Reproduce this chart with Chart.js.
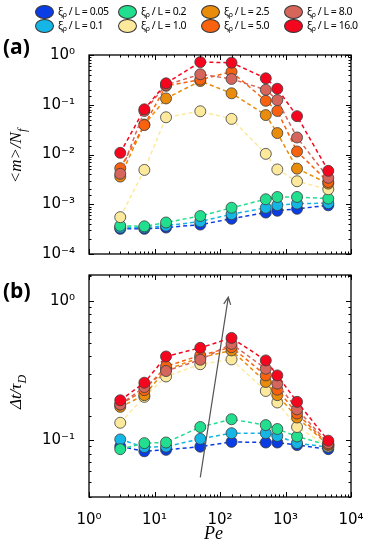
<!DOCTYPE html>
<html>
<head>
<meta charset="utf-8">
<script src="https://cdn.jsdelivr.net/npm/chart.js@4"></script>
<style>
body{margin:0;background:#fff;width:374px;height:554px;position:relative;overflow:hidden;font-family:"DejaVu Sans",sans-serif}
canvas{position:absolute;left:0}
#c1{top:0}
#c2{top:260px}
.leg{position:absolute;font:10.5px "Noto Sans",sans-serif;letter-spacing:-0.45px;white-space:nowrap;line-height:13px}
.leg i{position:absolute;left:-23px;top:0;width:17px;height:12px;border-radius:50%;border:1px solid #333}
.leg sub{font-size:7px;vertical-align:-2px}
.panel{position:absolute;font:bold 21px "Open Sans",sans-serif;left:3px}
.ytitle{position:absolute;font:italic 17px "Liberation Serif",serif;transform:translate(-50%,-50%) rotate(-90deg);white-space:nowrap}
.ytitle sub{font-size:12px}
#pe{position:absolute;left:204px;top:523px;font:italic 18px "Liberation Serif",serif}
</style>
</head>
<body>
<canvas id="c1" width="374" height="270"></canvas>
<canvas id="c2" width="374" height="294"></canvas>
<div class="panel" style="top:32px">(a)</div>
<div class="panel" style="top:276px">(b)</div>
<div class="ytitle" style="left:18px;top:156px">&lt;m&gt;/N<sub>f</sub></div>
<div class="ytitle" style="left:18px;top:392px">&Delta;t/&tau;<sub>D</sub></div>
<div id="pe">Pe</div>
<script>
// Peclet numbers (x)
const pe = [3, 7, 15, 50, 150, 500, 750, 1500, 4500];
const xiLabels = ['0.05', '0.1', '0.2', '1.0', '2.5', '5.0', '8.0', '16.0'];
const colors = ['#0a3de6', '#14b6e6', '#22df8f', '#fde99b', '#e98b0b', '#f8620f', '#d6655b', '#f4061f'];

// panel (a): <m>/N_f
const m005 = [0.00032, 0.00032, 0.00034, 0.00039, 0.00051, 0.00068, 0.00074, 0.00081, 0.00095];
const m01 = [0.00034, 0.00034, 0.00037, 0.00045, 0.00063, 0.00085, 0.00096, 0.00103, 0.00105];
const m02 = [0.00037, 0.00036, 0.00043, 0.00058, 0.00085, 0.00126, 0.0014, 0.0014, 0.0013];
const m10 = [0.00055, 0.0049, 0.056, 0.074, 0.052, 0.0103, 0.005, 0.0029, 0.002];
const m25 = [0.0036, 0.04, 0.134, 0.30, 0.17, 0.062, 0.027, 0.0052, 0.0026];
const m50 = [0.0053, 0.039, 0.24, 0.32, 0.46, 0.12, 0.075, 0.0115, 0.0028];
const m80 = [0.0041, 0.075, 0.25, 0.41, 0.33, 0.2, 0.124, 0.022, 0.0034];
const m160 = [0.0108, 0.081, 0.27, 0.72, 0.70, 0.34, 0.21, 0.059, 0.0047];

// panel (b): dt / tau_D
const dt005 = [0.09, 0.083, 0.085, 0.0896, 0.097, 0.096, 0.096, 0.092, 0.086];
const dt01 = [0.101, 0.089, 0.0896, 0.102, 0.112, 0.112, 0.107, 0.095, 0.089];
const dt02 = [0.086, 0.095, 0.096, 0.124, 0.141, 0.128, 0.12, 0.106, 0.092];
const dt10 = [0.133, 0.204, 0.286, 0.35, 0.379, 0.225, 0.186, 0.124, 0.09];
const dt25 = [0.173, 0.21, 0.32, 0.39, 0.44, 0.261, 0.21, 0.145, 0.092];
const dt50 = [0.18, 0.228, 0.338, 0.405, 0.464, 0.291, 0.23, 0.155, 0.093];
const dt80 = [0.18, 0.24, 0.313, 0.377, 0.49, 0.325, 0.254, 0.166, 0.095];
const dt160 = [0.193, 0.258, 0.398, 0.459, 0.541, 0.373, 0.291, 0.188, 0.099];

// arrow in panel (b), data coords
const arrowFrom = [50, 0.054];
const arrowTo = [134, 1.06];

const mSeries = [m005, m01, m02, m10, m25, m50, m80, m160];
const dtSeries = [dt005, dt01, dt02, dt10, dt25, dt50, dt80, dt160];

// legend, 2 rows x 4 cols, column-major
xiLabels.forEach((lab, i) => {
  const d = document.createElement('div');
  d.className = 'leg';
  d.style.left = (58 + Math.floor(i / 2) * 83) + 'px';
  d.style.top = (i % 2 ? 19 : 5) + 'px';
  d.innerHTML = '<i style="background:' + colors[i] + '"></i>&xi;<sub>&rho;</sub> / L = ' + lab;
  document.body.appendChild(d);
});

const sup = {'-': '⁻', '0': '⁰', '1': '¹', '2': '²', '3': '³', '4': '⁴'};
function powLabel(v) {
  const e = Math.log10(v), r = Math.round(e);
  if (Math.abs(e - r) > 1e-6) return '';
  return '10' + String(r).split('').map(c => sup[c]).join('');
}

const frameTicks = {
  id: 'frameTicks',
  afterDraw(chart) {
    const {ctx, chartArea: a, scales} = chart;
    ctx.save();
    ctx.strokeStyle = '#000';
    ctx.lineWidth = 1;
    scales.x.ticks.forEach(t => {
      const p = Math.round(scales.x.getPixelForValue(t.value)) + 0.5;
      const len = powLabel(t.value) ? 5 : 2.5;
      ctx.beginPath();
      ctx.moveTo(p, a.bottom); ctx.lineTo(p, a.bottom - len);
      ctx.moveTo(p, a.top); ctx.lineTo(p, a.top + len);
      ctx.stroke();
    });
    scales.y.ticks.forEach(t => {
      const p = Math.round(scales.y.getPixelForValue(t.value)) + 0.5;
      const len = powLabel(t.value) ? 5 : 2.5;
      ctx.beginPath();
      ctx.moveTo(a.left, p); ctx.lineTo(a.left + len, p);
      ctx.moveTo(a.right, p); ctx.lineTo(a.right - len, p);
      ctx.stroke();
    });
    ctx.lineWidth = 1.3;
    ctx.strokeRect(a.left, a.top, a.right - a.left, a.bottom - a.top);
    ctx.restore();
  }
};

const arrowPlugin = {
  id: 'arrow',
  afterDatasetsDraw(chart) {
    const {ctx, scales} = chart;
    const x0 = scales.x.getPixelForValue(arrowFrom[0]), y0 = scales.y.getPixelForValue(arrowFrom[1]);
    const x1 = scales.x.getPixelForValue(arrowTo[0]), y1 = scales.y.getPixelForValue(arrowTo[1]);
    const ang = Math.atan2(y1 - y0, x1 - x0);
    ctx.save();
    ctx.strokeStyle = '#555';
    ctx.lineWidth = 1.2;
    ctx.beginPath();
    ctx.moveTo(x0, y0); ctx.lineTo(x1, y1);
    ctx.moveTo(x1 - 8 * Math.cos(ang - 0.45), y1 - 8 * Math.sin(ang - 0.45));
    ctx.lineTo(x1, y1);
    ctx.lineTo(x1 - 8 * Math.cos(ang + 0.45), y1 - 8 * Math.sin(ang + 0.45));
    ctx.stroke();
    ctx.restore();
  }
};

function makeDatasets(series) {
  return series.map((arr, k) => ({
    label: xiLabels[k],
    data: pe.map((x, i) => ({x: x, y: arr[i]})),
    borderColor: colors[k],
    backgroundColor: colors[k],
    borderDash: [4, 3],
    borderWidth: 1.5,
    pointRadius: 5.5,
    pointBorderColor: '#3c3c3c',
    pointBorderWidth: 0.8,
    order: 7 - k
  }));
}

function makeOptions(ymin, ymax, showX, pad) {
  return {
    responsive: false,
    animation: false,
    devicePixelRatio: 1,
    layout: {padding: pad},
    plugins: {legend: {display: false}, tooltip: {enabled: false}},
    scales: {
      x: {
        type: 'logarithmic', min: 1, max: 10000,
        grid: {display: false}, border: {display: false},
        ticks: {display: showX, autoSkip: false, maxRotation: 0, padding: 6, color: '#000',
                font: {family: 'DejaVu Sans', size: 15}, callback: v => powLabel(v)},
        afterFit: s => { s.height = showX ? 57 : 0; }
      },
      y: {
        type: 'logarithmic', min: ymin, max: ymax,
        grid: {display: false}, border: {display: false},
        ticks: {autoSkip: false, padding: 6, color: '#000',
                font: {family: 'DejaVu Sans', size: 15}, callback: v => powLabel(v)},
        afterFit: s => { s.width = 89; }
      }
    }
  };
}

new Chart(document.getElementById('c1'), {
  type: 'line',
  data: {datasets: makeDatasets(mSeries)},
  options: makeOptions(0.0001, 1, false, {top: 55, bottom: 16, left: 0, right: 23}),
  plugins: [frameTicks]
});

new Chart(document.getElementById('c2'), {
  type: 'line',
  data: {datasets: makeDatasets(dtSeries)},
  options: makeOptions(0.039, 1.53, true, {top: 14, bottom: 0, left: 0, right: 23}),
  plugins: [frameTicks, arrowPlugin]
});
</script>
</body>
</html>
